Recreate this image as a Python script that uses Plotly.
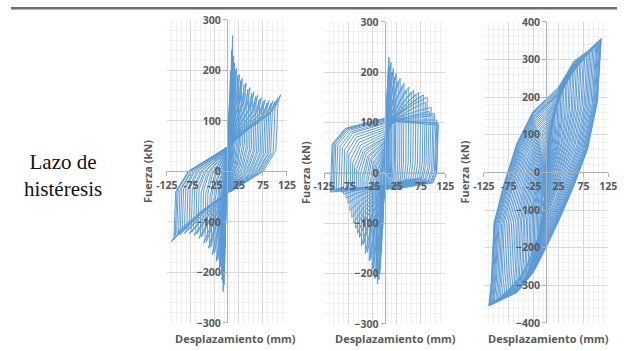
import plotly.graph_objects as go

# ---------------------------------------------------------------------------
# Cycle peaks per specimen: displacement (mm) and force (kN) at the positive
# and negative peak of every cycle, plus the force where the curve crosses
# zero displacement on its way towards each peak.
# ---------------------------------------------------------------------------

# Specimen 1
S1_DISP_POS = [2, 3, 4, 6, 8, 10, 12, 12, 14, 14, 16, 18, 20, 23, 26, 29, 32, 36,
               40, 44, 48, 52, 56, 60, 64, 68, 72, 76, 80, 84, 88, 92, 96, 100, 106, 112]
S1_FORCE_POS = [45, 70, 100, 150, 200, 240, 269, 245, 228, 210, 215, 200, 205, 190, 192, 180, 184, 172,
                175, 163, 166, 155, 158, 148, 151, 143, 146, 139, 142, 136, 140, 135, 140, 138, 146, 152]
S1_ZERO_POS = [5, 8, 10, 15, 20, 25, 28, 26, 30, 28, 32, 32, 34, 34, 36, 36, 38, 38,
               40, 40, 41, 41, 42, 42, 43, 43, 44, 44, 45, 45, 46, 46, 47, 47, 48, 48]
S1_DISP_NEG = [-2, -2, -3, -4, -5, -6, -8, -8, -10, -10, -12, -14, -16, -19, -22, -26, -30, -34,
               -38, -43, -48, -53, -58, -63, -68, -73, -78, -83, -88, -93, -98, -102, -106, -110, -113, -116]
S1_FORCE_NEG = [-45, -70, -100, -150, -200, -225, -238, -220, -215, -200, -205, -190, -192, -175, -178, -162, -165, -150,
                -152, -140, -142, -130, -133, -124, -127, -120, -124, -118, -123, -120, -126, -122, -130, -127, -136, -140]
S1_ZERO_NEG = [-5, -8, -10, -15, -20, -25, -28, -26, -30, -28, -32, -32, -34, -34, -36, -36, -37, -37,
               -38, -38, -39, -39, -40, -40, -40, -40, -41, -41, -41, -41, -42, -42, -42, -42, -42, -42]

# Specimen 2
S2_DISP_POS = [2, 3, 4, 6, 8, 9, 11, 13, 15, 18, 21, 24, 28, 32, 36, 40, 45, 50,
               55, 60, 65, 70, 75, 80, 84, 88, 92, 96, 100, 103, 106, 108, 110, 111]
S2_FORCE_POS = [50, 80, 110, 160, 210, 230, 212, 220, 200, 208, 190, 198, 182, 188, 172, 178, 165, 170,
                160, 164, 156, 160, 152, 155, 140, 150, 122, 130, 114, 118, 100, 105, 95, 98]
S2_ZERO_POS = [5, 8, 10, 20, 28, 30, 32, 34, 36, 40, 42, 45, 48, 50, 53, 56, 58, 60,
               62, 65, 68, 70, 74, 78, 82, 86, 90, 94, 98, 100, 103, 105, 107, 108]
S2_DISP_NEG = [-2, -3, -4, -7, -9, -10, -12, -15, -17, -20, -23, -26, -29, -32, -36, -40, -44, -48,
               -52, -56, -60, -64, -68, -72, -76, -80, -85, -90, -95, -100, -104, -107, -110, -112]
S2_FORCE_NEG = [-50, -80, -110, -160, -190, -200, -212, -221, -205, -210, -190, -192, -172, -175, -158, -160, -142, -145,
                -128, -120, -110, -100, -88, -75, -60, -50, -42, -38, -35, -33, -32, -34, -36, -38]
S2_ZERO_NEG = [-5, -8, -10, -18, -22, -25, -28, -30, -30, -30, -30, -30, -30, -30, -29, -29, -28, -28,
               -27, -27, -26, -26, -25, -25, -25, -25, -25, -25, -26, -26, -27, -28, -29, -30]

# Specimen 3
S3_DISP_POS = [3, 5, 7, 9, 11, 13, 15, 18, 21, 24, 27, 30, 33, 36, 40, 43, 47, 50, 54, 57,
               61, 64, 68, 71, 75, 78, 82, 85, 88, 91, 94, 97, 100, 102, 104, 106, 108, 109, 110, 111]
S3_FORCE_POS = [40, 65, 90, 112, 128, 142, 155, 170, 184, 196, 206, 216, 226, 234, 244, 250, 260, 266, 274, 280,
                288, 292, 298, 302, 308, 311, 316, 320, 324, 327, 331, 334, 338, 340, 343, 346, 349, 351, 353, 356]
S3_ZERO_POS = [4, 7, 10, 14, 18, 22, 26, 31, 36, 42, 47, 53, 58, 64, 70, 75, 82, 87, 94, 99,
               106, 111, 118, 123, 130, 135, 142, 147, 152, 157, 162, 167, 172, 175, 179, 182, 186, 189, 192, 195]
S3_DISP_NEG = [-3, -5, -7, -9, -11, -13, -15, -18, -21, -24, -27, -30, -33, -36, -40, -43, -47, -50, -54, -57,
               -61, -64, -68, -72, -76, -80, -84, -88, -92, -95, -98, -101, -104, -106, -108, -110, -112, -113, -114, -115]
S3_FORCE_NEG = [-40, -65, -90, -112, -130, -145, -158, -173, -187, -200, -210, -220, -230, -238, -248, -255, -264, -270, -278, -284,
                -291, -296, -302, -307, -312, -317, -322, -326, -330, -334, -337, -340, -343, -345, -347, -349, -351, -352, -354, -355]
S3_ZERO_NEG = [-4, -7, -10, -14, -18, -22, -26, -31, -36, -42, -47, -53, -58, -64, -70, -75, -82, -87, -94, -99,
               -106, -111, -118, -124, -131, -137, -144, -150, -156, -161, -166, -171, -176, -180, -184, -187, -191, -194, -197, -200]

# Branch shapes of each specimen, as fractions between the branch end points
S1_SHAPE = dict(
    pos_load=([0, 0.45, 0.88, 1], [0, 0.40, 0.72, 1]),
    pos_unload=([1, 0.95, 0.91, 0.68, 0.10, 0], [1, 0.92, 0.43, 0.22, 0.02, 0]),
    neg_load=([0, 0.45, 0.88, 1], [0, 0.40, 0.85, 1]),
    neg_unload=([1, 0.95, 0.92, 0.70, 0.10, 0], [1, 0.95, 0.47, 0.26, 0.04, 0]),
)
S2_SHAPE = dict(
    pos_load=([0, 0.3, 0.7, 1], [0, 0.45, 0.8, 1]),
    pos_unload=([1, 0.97, 0.9, 0.25, 0], [1, 0.24, 0.08, -0.01, 0]),
    neg_load=([0, 0.3, 0.7, 1], [0, 0.25, 0.6, 1]),
    neg_unload=([1, 0.97, 0.73, 0.37, 0], [1, 0.35, 0.137, 0.068, 0]),
)
S3_SHAPE = dict(
    pos_load=([0, 0.23, 0.34, 0.51, 0.75, 1], [0, 0.2, 0.37, 0.63, 0.79, 1]),
    pos_unload=([1, 0.93, 0.75, 0.51, 0.25, 0], [1, 0.70, 0.47, 0.30, 0.14, 0]),
    neg_load=([0, 0.22, 0.51, 1], [0, 0.42, 0.77, 1]),
    neg_unload=([1, 0.96, 0.91, 0.74, 0.51, 0.23, 0], [1, 0.89, 0.60, 0.415, 0.215, 0.062, 0]),
)

X_TICKS = [-125, -75, -25, 25, 75, 125]
X_TITLE = "Desplazamiento (mm)"
Y_TITLE = "Fuerza (kN)"
SIDE_TEXT = "Lazo de<br>histéresis"

LINE_COLOR = "#5B9BD5"
TEXT_COLOR = "#595959"
FONT = "Open Sans"


def cycle_path(dp, fp, rp, dn, fn, rn, shape):
    """Chain every cycle: load to + peak, unload, load to - peak, unload."""
    xs, ys = [], []
    n = len(dp)
    for i in range(n):
        rp_next = rp[i + 1] if i + 1 < n else rp[i]
        tx, ty = shape["pos_load"]
        for a, b in zip(tx, ty):
            xs.append(dp[i] * a)
            ys.append(rp[i] + (fp[i] - rp[i]) * b)
        ux, uy = shape["pos_unload"]
        for a, b in zip(ux[1:], uy[1:]):
            xs.append(dp[i] * a)
            ys.append(rn[i] + (fp[i] - rn[i]) * b)
        tx, ty = shape["neg_load"]
        for a, b in zip(tx[1:], ty[1:]):
            xs.append(dn[i] * a)
            ys.append(rn[i] + (fn[i] - rn[i]) * b)
        ux, uy = shape["neg_unload"]
        for a, b in zip(ux[1:], uy[1:]):
            xs.append(dn[i] * a)
            ys.append(rp_next + (fn[i] - rp_next) * b)
    return xs, ys


W, H = 626, 351


def px(x):
    return x / W


def py(y):
    return 1 - y / H


panels = [
    dict(data=(S1_DISP_POS, S1_FORCE_POS, S1_ZERO_POS, S1_DISP_NEG, S1_FORCE_NEG, S1_ZERO_NEG),
         shape=S1_SHAPE, xdom=(161, 285), ydom=(13.5, 329), yr=300,
         ytitle_x=141, xtitle_x=232),
    dict(data=(S2_DISP_POS, S2_FORCE_POS, S2_ZERO_POS, S2_DISP_NEG, S2_FORCE_NEG, S2_ZERO_NEG),
         shape=S2_SHAPE, xdom=(323.5, 448.5), ydom=(15.5, 330), yr=300,
         ytitle_x=305, xtitle_x=397),
    dict(data=(S3_DISP_POS, S3_FORCE_POS, S3_ZERO_POS, S3_DISP_NEG, S3_FORCE_NEG, S3_ZERO_NEG),
         shape=S3_SHAPE, xdom=(488.5, 617), ydom=(15.5, 329), yr=400,
         ytitle_x=468, xtitle_x=555),
]

fig = go.Figure()
layout = dict(
    width=W, height=H, margin=dict(l=0, r=0, t=0, b=0),
    paper_bgcolor="white", plot_bgcolor="white", showlegend=False,
    font=dict(family=FONT, color=TEXT_COLOR),
)
annotations = []

tickfont = dict(family=FONT, size=10.5, color=TEXT_COLOR, weight="bold")

for k, p in enumerate(panels, start=1):
    sfx = "" if k == 1 else str(k)
    xs, ys = cycle_path(*p["data"], p["shape"])
    fig.add_trace(go.Scatter(
        x=xs, y=ys, mode="lines", xaxis="x" + sfx, yaxis="y" + sfx,
        line=dict(color=LINE_COLOR, width=1), hoverinfo="skip",
    ))
    x0, x1 = px(p["xdom"][0]), px(p["xdom"][1])
    y0, y1 = py(p["ydom"][1]), py(p["ydom"][0])
    layout["xaxis" + sfx] = dict(
        domain=[x0, x1], range=[-125, 125], anchor="free", position=(y0 + y1) / 2,
        tickmode="array", tickvals=X_TICKS, ticktext=[str(t) for t in X_TICKS],
        showgrid=True, gridcolor="#D9D9D9", gridwidth=1,
        minor=dict(tickmode="linear", tick0=-125, dtick=10, showgrid=True,
                   gridcolor="#F0F0F0", gridwidth=1),
        showline=True, linecolor="#A9B1BC", linewidth=1,
        ticks="outside", ticklen=4, tickcolor="#A9B1BC",
        zeroline=False, tickfont=tickfont, fixedrange=True,
    )
    yr = p["yr"]
    layout["yaxis" + sfx] = dict(
        domain=[y0, y1], range=[-yr, yr], anchor="free", position=(x0 + x1) / 2,
        tickmode="linear", tick0=0, dtick=100,
        showgrid=True, gridcolor="#D9D9D9", gridwidth=1,
        minor=dict(tickmode="linear", tick0=0, dtick=20, showgrid=True,
                   gridcolor="#F0F0F0", gridwidth=1),
        showline=True, linecolor="#A9B1BC", linewidth=1,
        ticks="outside", ticklen=4, tickcolor="#A9B1BC",
        zeroline=False, tickfont=tickfont, fixedrange=True,
    )
    annotations.append(dict(
        text=Y_TITLE, textangle=-90, xref="paper", yref="paper",
        x=px(p["ytitle_x"]), y=(y0 + y1) / 2, xanchor="center", yanchor="middle",
        showarrow=False,
        font=dict(family=FONT, size=11, color=TEXT_COLOR, weight="bold"),
    ))
    annotations.append(dict(
        text=X_TITLE, xref="paper", yref="paper",
        x=px(p["xtitle_x"]), y=py(345), xanchor="center", yanchor="middle",
        showarrow=False, borderpad=0,
        font=dict(family=FONT, size=11, color=TEXT_COLOR, weight="bold"),
    ))

annotations.append(dict(
    text=SIDE_TEXT, xref="paper", yref="paper", x=px(54), y=py(176),
    xanchor="center", yanchor="middle", showarrow=False, align="center",
    font=dict(family="Liberation Serif", size=21, color="#111111"),
))
layout["annotations"] = annotations
layout["shapes"] = [dict(type="rect", xref="paper", yref="paper",
                         x0=0, x1=1, y0=py(2.5), y1=1,
                         fillcolor="#707070", line=dict(width=0))]

fig.update_layout(**layout)
fig.write_html("out.html")
